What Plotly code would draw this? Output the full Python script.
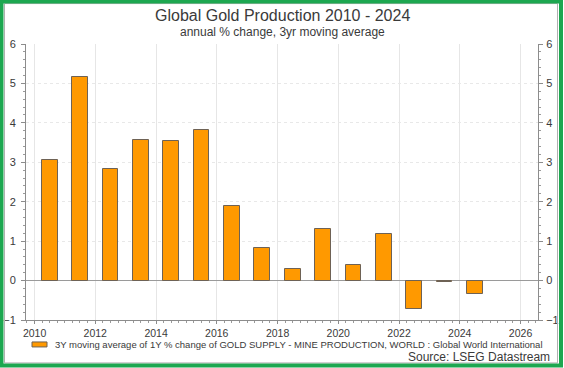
import plotly.graph_objects as go

years = ["2010", "2011", "2012", "2013", "2014", "2015", "2016", "2017",
         "2018", "2019", "2020", "2021", "2022", "2023", "2024"]
values = [3.07, 5.16, 2.82, 3.57, 3.53, 3.81, 1.88, 0.82,
          0.30, 1.32, 0.39, 1.17, -0.73, -0.04, -0.35]
series_name = ("3Y moving average of 1Y % change of GOLD SUPPLY - MINE PRODUCTION, "
               "WORLD : Global World International")
title_text = "Global Gold Production 2010 - 2024"
subtitle_text = "annual % change, 3yr moving average"
source_text = "Source: LSEG Datastream"

W, H = 564, 368
L, R, T, B = 26, 26, 44, 47.5
PW, PH = W - L - R, H - T - B

def px(x):
    return (x - L) / PW

def py(y):
    return (H - B - y) / PH

FONT = "Arial, Liberation Sans, sans-serif"
TXT = "#3a3a3a"
ORANGE = "#FF9900"
EDGE = "#6e6255"

fig = go.Figure()
fig.add_trace(go.Bar(
    x=years, y=values, name=series_name,
    xperiod="M12", xperiodalignment="middle",
    width=190 * 86400000,
    marker=dict(color=ORANGE, line=dict(color=EDGE, width=1)),
    showlegend=False,
))

axis_common = dict(
    showline=True, linecolor="#8c8c8c", linewidth=1,
    tickcolor="#8c8c8c",
    automargin=False,
)

fig.update_layout(
    width=W, height=H,
    margin=dict(l=L, r=R, t=T, b=B, autoexpand=False),
    paper_bgcolor="white", plot_bgcolor="white",
    font=dict(family=FONT, color=TXT),
    bargap=0,
    xaxis=dict(
        type="date",
        range=["2009-09-20", "2026-07-30"],
        tick0="2010-01-01", dtick="M24", tickformat="%Y",
        ticks="outside", ticklen=3,
        tickfont=dict(family=FONT, size=10.5, color=TXT),
        showgrid=True, gridcolor="#e6e6e6", gridwidth=1,
        zeroline=False, mirror=False,
        minor=dict(dtick="M3", ticks="outside", ticklen=2, tickcolor="#9a9a9a", showgrid=False),
        **axis_common,
    ),
    yaxis=dict(
        range=[-1, 6], dtick=1, tick0=0,
        ticks="outside", ticklen=4,
        tickfont=dict(family=FONT, size=11, color=TXT),
        showgrid=True, gridcolor="#e8e8e8", griddash="dot",
        zeroline=True, zerolinecolor="#9a9a9a", zerolinewidth=1,
        ticklabelstandoff=3,
        minor=dict(dtick=0.2, ticks="outside", ticklen=2, tickcolor="#9a9a9a", showgrid=False),
        **axis_common,
    ),
    yaxis2=dict(
        overlaying="y", side="right", matches="y",
        range=[-1, 6], dtick=1, tick0=0,
        ticks="outside", ticklen=4,
        tickfont=dict(family=FONT, size=11, color=TXT),
        showgrid=False, zeroline=False,
        ticklabelstandoff=1,
        minor=dict(dtick=0.2, ticks="outside", ticklen=2, tickcolor="#9a9a9a", showgrid=False),
        **axis_common,
    ),
)

# invisible helper trace to activate the right axis
fig.add_trace(go.Scatter(x=[years[0]], y=[0], yaxis="y2", mode="markers",
                         marker=dict(opacity=0), hoverinfo="skip", showlegend=False))

annotations = [
    dict(text=title_text, x=0.5, y=py(15), font=dict(size=16, color=TXT)),
    dict(text=subtitle_text, x=0.5, y=py(32), font=dict(size=12, color=TXT)),
    dict(text=series_name, x=px(53), y=py(345), xanchor="left", font=dict(size=9.5, color=TXT)),
    dict(text=source_text, x=px(552), y=py(358), xanchor="right", font=dict(size=12, color=TXT)),
]
for a in annotations:
    a.setdefault("xanchor", "center")
    fig.add_annotation(xref="paper", yref="paper", yanchor="middle",
                       showarrow=False, font_family=FONT, **a)

shapes = [
    # legend swatch
    dict(type="rect", xref="paper", yref="paper",
         x0=px(32), x1=px(47), y0=py(347.5), y1=py(342.5),
         fillcolor=ORANGE, line=dict(color=EDGE, width=1)),
    # inner thin frame
    dict(type="rect", xref="paper", yref="paper",
         x0=px(4.5), x1=px(W - 6.5), y0=py(H - 4.5), y1=py(3.5),
         line=dict(color="#b0b0b0", width=1)),
    # green outer frame
    dict(type="rect", xref="paper", yref="paper",
         x0=px(1.5), x1=px(W - 3), y0=py(H - 2), y1=py(1.5),
         line=dict(color="#1DA750", width=4)),
]
for s in shapes:
    fig.add_shape(**s)

fig.write_html(
    "out.html",
    config={"displayModeBar": False},
    post_script="document.body.style.margin='0';document.body.style.overflow='hidden';",
)
